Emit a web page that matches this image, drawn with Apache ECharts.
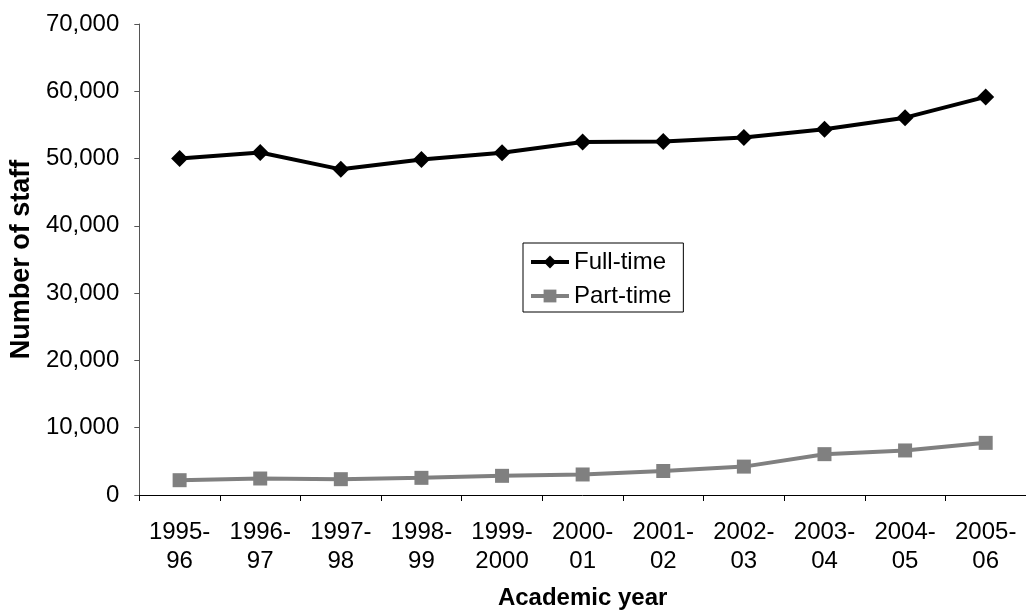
<!DOCTYPE html>
<html>
<head>
<meta charset="utf-8">
<script src="https://cdn.jsdelivr.net/npm/echarts@6/dist/echarts.min.js"></script>
<style>
html,body{margin:0;padding:0;background:#fff;}
#chart{width:1026px;height:615px;}
</style>
</head>
<body>
<div id="chart"></div>
<script>
// Academic years (two-line labels)
const years = ['1995-\n96','1996-\n97','1997-\n98','1998-\n99','1999-\n2000','2000-\n01','2001-\n02','2002-\n03','2003-\n04','2004-\n05','2005-\n06'];
// Staff head counts
const fullTime = [50000, 50900, 48400, 49850, 50880, 52450, 52550, 53130, 54370, 56080, 59160];
const partTime = [2200, 2450, 2350, 2550, 2850, 3050, 3570, 4220, 6070, 6620, 7750];
// Y axis range
const yMin = 0, yMax = 70000, yStep = 10000;

const FONT = '"Liberation Sans", Arial, sans-serif';
const chart = echarts.init(document.getElementById('chart'), null, {renderer:'canvas'});
chart.setOption({
  animation:false,
  backgroundColor:'#fff',
  grid:{left:137, right:-3, top:24, bottom:115, containLabel:false},
  legend:{
    left:523, top:243, orient:'vertical',
    padding:[7,12,4,6], itemGap:10,
    borderColor:'#000', borderWidth:1,
    itemWidth:38, itemHeight:16,
    lineStyle:{width:4},
    textStyle:{fontFamily:FONT, fontSize:24, color:'#000', padding:[0,0,0,0]},
    data:['Full-time','Part-time']
  },
  xAxis:{
    type:'category', data:years, boundaryGap:true,
    name:'Academic year', nameLocation:'middle', nameGap:91,
    nameTextStyle:{fontFamily:FONT, fontSize:24, fontWeight:'bold', color:'#000'},
    axisLine:{lineStyle:{color:'#000', width:1}},
    axisTick:{show:true, length:6, alignWithLabel:false, lineStyle:{color:'#000'}},
    axisLabel:{fontFamily:FONT, fontSize:24, color:'#000', margin:23, lineHeight:29, interval:0}
  },
  yAxis:{
    type:'value', min:yMin, max:yMax, interval:yStep,
    name:'Number of staff', nameLocation:'middle', nameGap:101, nameRotate:90,
    nameTextStyle:{fontFamily:FONT, fontSize:27, fontWeight:'bold', color:'#000'},
    axisLine:{show:true, lineStyle:{color:'#555', width:1}},
    axisTick:{show:true, length:5, lineStyle:{color:'#555'}},
    splitLine:{show:false},
    axisLabel:{fontFamily:FONT, fontSize:24, color:'#000', margin:20,
      formatter:v=>v.toLocaleString('en-US')}
  },
  series:[
    {name:'Full-time', type:'line', data:fullTime,
     symbol:'diamond', symbolSize:17,
     lineStyle:{color:'#000', width:4},
     itemStyle:{color:'#000'}},
    {name:'Part-time', type:'line', data:partTime,
     symbol:'rect', symbolSize:14,
     lineStyle:{color:'#808080', width:4},
     itemStyle:{color:'#808080'}}
  ]
});
</script>
</body>
</html>
